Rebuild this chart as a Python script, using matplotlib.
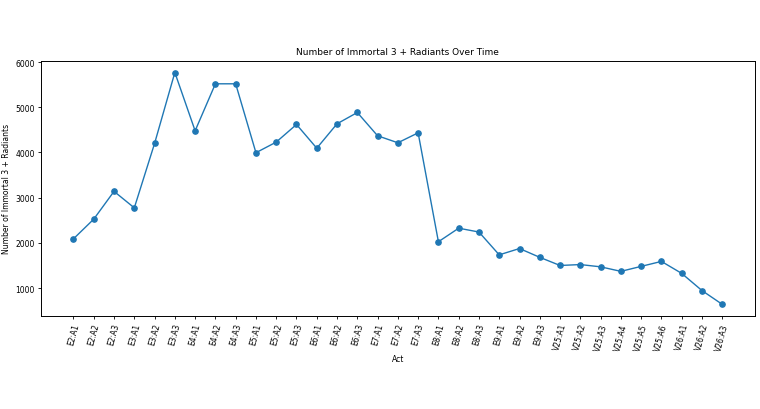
from matplotlib import pyplot as plt

acts = ['E2:A1', 'E2:A2', 'E2:A3', 'E3:A1', 'E3:A2', 'E3:A3',
        'E4:A1', 'E4:A2', 'E4:A3', 'E5:A1', 'E5:A2', 'E5:A3',
        'E6:A1', 'E6:A2', 'E6:A3', 'E7:A1', 'E7:A2', 'E7:A3',
        'E8:A1', 'E8:A2', 'E8:A3', 'E9:A1', 'E9:A2', 'E9:A3',
        'V25:A1', 'V25:A2', 'V25:A3', 'V25:A4', 'V25:A5', 'V25:A6',
        'V26:A1', 'V26:A2', 'V26:A3']
counts = [2090, 2525, 3140, 2775, 4200, 5770,
          4480, 5520, 5520, 3995, 4230, 4620,
          4095, 4635, 4885, 4370, 4215, 4435,
          2025, 2325, 2240, 1735, 1875, 1680,
          1500, 1520, 1470, 1370, 1480, 1590,
          1325, 945, 640]

plt.style.use('default')
fig, ax = plt.subplots(figsize=(7.6, 4.1), dpi=100)
fig.subplots_adjust(left=0.054, right=0.993, top=0.849, bottom=0.227)

ax.plot(acts, counts, marker='o', markersize=3.8, linewidth=1.0)
ax.set_title('Number of Immortal 3 + Radiants Over Time', fontsize=6.5, pad=5)
ax.set_xlabel('Act', fontsize=5.5, labelpad=2)
ax.set_ylabel('Number of Immortal 3 + Radiants', fontsize=5.5, labelpad=3)
ax.tick_params(axis='both', labelsize=5.5, length=2.5, width=0.6, pad=2)
plt.setp(ax.get_xticklabels(), rotation=75)
for spine in ax.spines.values():
    spine.set_linewidth(0.7)

plt.savefig('out.png', dpi=100)
